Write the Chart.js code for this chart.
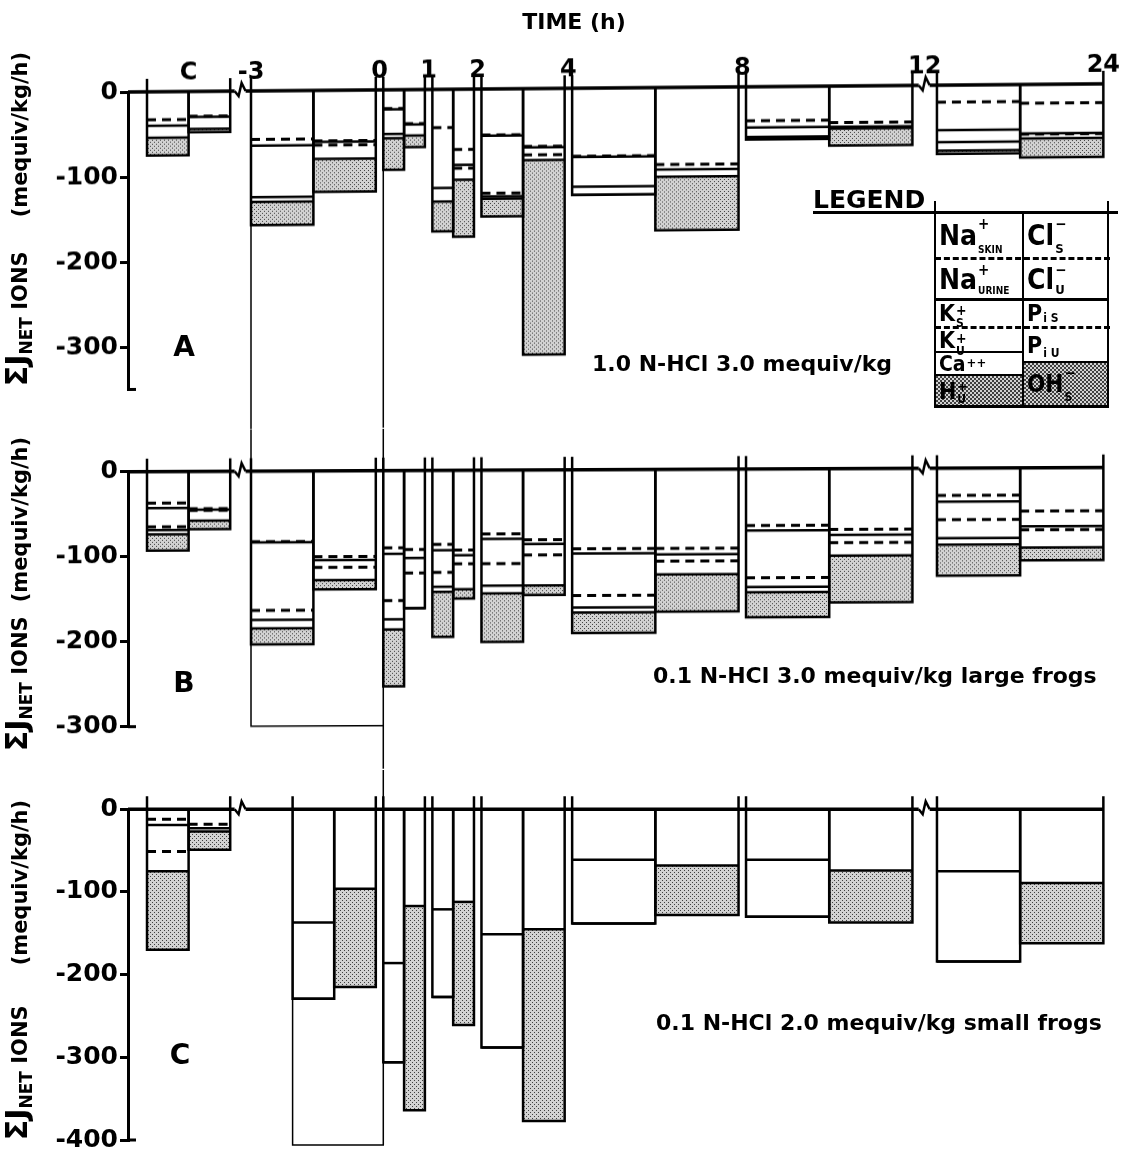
<!DOCTYPE html>
<html>
<head>
<meta charset="utf-8">
<script src="https://cdn.jsdelivr.net/npm/chart.js@4.4.0/dist/chart.umd.min.js"></script>
<style>
  html, body { margin: 0; background: #fff; }
  #fig { position: relative; width: 1134px; height: 1157px; overflow: hidden;
         font-family: "DejaVu Sans", sans-serif; font-weight: bold; color: #000; }
  canvas { position: absolute; left: 0; }
  .t { position: absolute; white-space: nowrap; line-height: 1; }
  .mid { transform: translate(-50%, -50%); }
  .vmid { transform: translateY(-50%); }
  .ytitle { position: absolute; white-space: nowrap; line-height: 1; font-size: 21px;
            transform: translate(-50%, -50%) rotate(-90deg); }
  .ytitle .big { font-size: 30px; }
  .ytitle sub { font-size: 17px; vertical-align: -5px; }
  .rule { position: absolute; background: #000; }
  .dash { position: absolute; border-top: 3px dashed #000; height: 0; }
  .stip { position: absolute; background-color: #d2d2d2;
          background-image: radial-gradient(circle, #404040 0.8px, transparent 1px),
                            radial-gradient(circle, #404040 0.8px, transparent 1px);
          background-size: 4px 4px; background-position: 0 0, 2px 2px; }
  .cell { position: absolute; display: flex; align-items: center; padding-left: 3px;
          font-family: "Liberation Sans Narrow", "DejaVu Sans Condensed", sans-serif; font-weight: bold; }
  .cell .ss { display: inline-flex; flex-direction: column; justify-content: space-between;
              line-height: 1; margin-left: 1px; align-self: stretch; padding: 3px 0 2px; }
</style>
</head>
<body>
<div id="fig">
  <canvas id="panelA" width="1134" height="430" style="top:0;transform-origin:128px 92px;transform:skewY(-0.48deg)"></canvas>
  <canvas id="panelB" width="1134" height="340" style="top:430px;transform-origin:128px 41.7px;transform:skewY(-0.25deg)"></canvas>
  <canvas id="panelC" width="1134" height="387" style="top:770px"></canvas>

  <div class="t mid" style="left:574px;top:22px;font-size:22px">TIME (h)</div>

  <div class="ytitle" style="left:18px;top:219px"><span class="big">ΣJ</span><sub>NET</sub> IONS<span style="display:inline-block;width:34px"></span>(mequiv/kg/h)</div>
  <div class="ytitle" style="left:18px;top:594px"><span class="big">ΣJ</span><sub>NET</sub> IONS<span style="display:inline-block;width:14px"></span>(mequiv/kg/h)</div>
  <div class="ytitle" style="left:18px;top:970px"><span class="big">ΣJ</span><sub>NET</sub> IONS<span style="display:inline-block;width:40px"></span>(mequiv/kg/h)</div>

  <div class="t mid" style="left:184px;top:347px;font-size:28px">A</div>
  <div class="t mid" style="left:184px;top:683px;font-size:28px">B</div>
  <div class="t mid" style="left:180px;top:1055px;font-size:28px">C</div>

  <div class="t vmid" style="left:592px;top:364px;font-size:22px">1.0 N-HCl 3.0 mequiv/kg</div>
  <div class="t vmid" style="left:653px;top:676px;font-size:22px">0.1 N-HCl 3.0 mequiv/kg large frogs</div>
  <div class="t vmid" style="left:656px;top:1023px;font-size:22px">0.1 N-HCl 2.0 mequiv/kg small frogs</div>

  <!-- legend -->
  <div class="t" style="left:813px;top:187px;font-size:25px">LEGEND</div>
  <div class="stip" style="left:935px;top:375px;width:88px;height:32px"></div>
  <div class="stip" style="left:1023px;top:362px;width:85px;height:45px"></div>
  <div class="rule" style="left:813px;top:211px;width:305px;height:3px"></div>
  <div class="rule" style="left:934px;top:201px;width:2px;height:207px"></div>
  <div class="rule" style="left:1022px;top:213px;width:2px;height:195px"></div>
  <div class="rule" style="left:1107px;top:201px;width:2px;height:207px"></div>
  <div class="dash" style="left:935px;top:257px;width:175px"></div>
  <div class="rule" style="left:935px;top:298px;width:173px;height:3px"></div>
  <div class="dash" style="left:935px;top:326px;width:175px"></div>
  <div class="rule" style="left:935px;top:351px;width:88px;height:2px"></div>
  <div class="rule" style="left:935px;top:374px;width:88px;height:2px"></div>
  <div class="rule" style="left:1023px;top:361px;width:85px;height:2px"></div>
  <div class="rule" style="left:934px;top:405px;width:175px;height:3px"></div>

  <div class="cell" style="left:936px;top:214px;height:43px;font-size:28px">Na<span class="ss"><span style="font-size:15px">+</span><span style="font-size:10px">SKIN</span></span></div>
  <div class="cell" style="left:936px;top:260px;height:38px;font-size:28px">Na<span class="ss"><span style="font-size:15px">+</span><span style="font-size:10px">URINE</span></span></div>
  <div class="cell" style="left:936px;top:300px;height:26px;font-size:23px">K<span class="ss"><span style="font-size:14px">+</span><span style="font-size:12px">S</span></span></div>
  <div class="cell" style="left:936px;top:328px;height:23px;font-size:23px">K<span class="ss"><span style="font-size:14px">+</span><span style="font-size:12px">U</span></span></div>
  <div class="cell" style="left:936px;top:353px;height:21px;font-size:21px">Ca<span class="ss"><span style="font-size:13px">++</span><span></span></span></div>
  <div class="cell" style="left:936px;top:376px;height:30px;font-size:23px">H<span class="ss"><span style="font-size:14px">+</span><span style="font-size:12px">U</span></span></div>
  <div class="cell" style="left:1024px;top:214px;height:43px;font-size:28px">Cl<span class="ss"><span style="font-size:15px">−</span><span style="font-size:13px">S</span></span></div>
  <div class="cell" style="left:1024px;top:260px;height:38px;font-size:28px">Cl<span class="ss"><span style="font-size:15px">−</span><span style="font-size:13px">U</span></span></div>
  <div class="cell" style="left:1024px;top:300px;height:26px;font-size:23px">P<span class="ss"><span></span><span style="font-size:12px">i S</span></span></div>
  <div class="cell" style="left:1024px;top:328px;height:33px;font-size:23px">P<span class="ss"><span></span><span style="font-size:12px">i U</span></span></div>
  <div class="cell" style="left:1024px;top:363px;height:42px;font-size:24px">OH<span class="ss"><span style="font-size:15px">−</span><span style="font-size:12px">S</span></span></div>
</div>

<script>
// collection periods; C = control collection (drawn as a 2 h block left of the axis break)
const periods     = ['C', '-3 to 0', '0 to 1', '1 to 2', '2 to 4', '4 to 8', '8 to 12', '12 to 24'];
const periodFrom  = [-5.5, -3, 0, 1, 2, 4, 8, 12];
const periodFromC = [-5.5, -2, 0, 1, 2, 4, 8, 12];   // small frogs: pre-load period from -2 h
const periodTo    = [-3.5, 0, 1, 2, 4, 8, 12, 24];
const timeTicks   = ['C', '-3', '0', '1', '2', '4', '8', '12', '24'];
const yTicksA = [-300, -200, -100, 0];
const yTicksB = [-300, -200, -100, 0];
const yTicksC = [-400, -300, -200, -100, 0];

// net ion fluxes, mequiv/kg/h, one value per period
// A: 1.0 N-HCl 3.0 mequiv/kg
const naSkinA  = [-33, -57, -22, -45, -54, -80, -40, -20];
const naUrineA = [-7, -7.5, -1, -71, -1, -1, -8, -33];
const kSkinA   = [0, 0, 0, 0, -67.5, 0, 0, 0];
const kUrineA  = [-14, -60.5, -29, -16, -4, -35, -11, -14];
const caA      = [0, -5.5, -5, 0, -2.5, -9.5, -1, -10];
const hUrineA  = [-21, -27.5, -37, -35, -21, 0, -2, -4];
const clSkinA  = [-29, -59.5, -40, -71, -68, -90.5, -43, -22];
const clUrineA = [-1, -1, -1, -18, -1, -6, -5, -35.5];
const pSkinA   = [0, -4, 0, -4, -9, 0, 0, -1];
const pUrineA  = [-14, -16, -13, -13.5, -6, -8.5, -2, -5];
const ohSkinA  = [-4, -39, -13.5, -67, -229, -63, -20, -22.5];

// B: 0.1 N-HCl 3.0 mequiv/kg, large frogs
const naSkinB  = [-37, -83, -91, -87, -75, -93, -66.5, -32];
const naUrineB = [-6, -1, -7, -7, -6, -5.5, -6, -7.5];
const kSkinB   = [-22, -80, -55, -26, -29, -49.5, -55.5, -21];
const kUrineB  = [-4, -11, -22, -17, -26, -14, -11, -22];
const caB      = [-5, -10, -12, -6, -9, -6, -6, -7.5];
const hUrineB  = [-19, -19, -67, -53, -57, -24, -29.5, -36.5];
const clSkinB  = [-44, -101, -93, -94, -82, -93, -71.5, -51];
const clUrineB = [-1, -4, -10, -6, -5, -7, -6.5, -18];
const pSkinB   = [-1, -8.5, -17.5, -10, -13, -8, -9, -4];
const pUrineB  = [-12, -15, -41.5, -30, -36, -15.5, -15.5, -21];
const ohSkinB  = [-10, -11, 0, -11, -11, -44, -55, -15];
const outlineB = -300;   // open box over the -3..0 h period

// C: 0.1 N-HCl 2.0 mequiv/kg, small frogs (after loading only two fractions resolved)
const naSkinC  = [-12, 0, 0, 0, 0, 0, 0, 0];
const naUrineC = [-7, -137, -186, -121, -151, -61, -61, -75];
const kSkinC   = [-32, 0, 0, 0, 0, 0, 0, 0];
const kUrineC  = [-24, -92, -120, -106, -137, -77, -69, -109];
const caC      = [0, 0, 0, 0, 0, 0, 0, 0];
const hUrineC  = [-95, 0, 0, 0, 0, 0, 0, 0];
const clSkinC  = [-18, 0, 0, 0, 0, 0, 0, 0];
const clUrineC = [-5, -96, -117, -112, -145, -68, -74, -89];
const pSkinC   = [0, 0, 0, 0, 0, 0, 0, 0];
const pUrineC  = [-4, 0, 0, 0, 0, 0, 0, 0];
const ohSkinC  = [-22, -119, -247, -149, -232, -60, -63, -73];
const outlineC = -406;   // open box over the -2..0 h period

// time axis: linear in h up to 12, gaps between collections, broken and compressed 12-24 h
const OFFSET = [0, 0, 0.18, 0.36, 0.54, 0.72, 0.90, 1.49];
const X_MIN = -5.957, X_MAX = 17.89;
const PX_X = 1 / 41.6;                       // h per pixel
function axisX(k, t) {
  const x = t > 12 ? 12 + (t - 12) / 3 : t;
  return x + OFFSET[k];
}
const timeTickAt = [axisX(0, -4.5), axisX(1, -3)];
for (let k = 1; k < 7; k++) timeTickAt.push((axisX(k, periodTo[k]) + axisX(k + 1, periodTo[k])) / 2);
timeTickAt.push(axisX(7, 24));

const STIPPLE = (() => {
  const c = document.createElement('canvas');
  c.width = c.height = 4;
  const g = c.getContext('2d');
  g.fillStyle = '#d2d2d2'; g.fillRect(0, 0, 4, 4);
  g.fillStyle = '#404040'; g.fillRect(0, 0, 1, 1); g.fillRect(2, 2, 1, 1);
  return g.createPattern(c, 'repeat');
})();

const cations = (na, nu, ks, ku, ca, h) =>
  [[na, 'dash'], [nu, 'solid'], [ks, 'dash'], [ku, 'solid'], [ca, 'solid'], [h, 'stipple']];
const anions = (cs, cu, ps, pu, oh) =>
  [[cs, 'dash'], [cu, 'solid'], [ps, 'dash'], [pu, 'solid'], [oh, 'stipple']];

const seg = (pts, w, dash) => ({
  data: pts.map(([x, y]) => ({ x, y })), borderColor: '#000', borderWidth: w,
  borderDash: dash || [], order: 1
});

function addBar(ds, series, k, xa, xb, riseL, riseR) {
  let level = 0;
  series.forEach(([vals, style]) => {
    const v = vals[k];
    if (!v) return;
    const top = level;
    level += v;
    if (style === 'stipple') {
      ds.push({ data: [{ x: xa, y: level }, { x: xb, y: level }], fill: { value: top },
                backgroundColor: STIPPLE, borderWidth: 0, order: 3 });
    } else if (style === 'dash') {
      ds.push({ ...seg([[xa, level], [xb, level]], 3, [9, 6]), order: 2 });
    } else {
      ds.push({ ...seg([[xa, level], [xb, level]], 2.5), order: 2 });
    }
  });
  ds.push(seg([[xa, riseL], [xa, level], [xb, level], [xb, riseR]], 2.5));
}

function addAxisLine(ds, uy, yMin) {
  const c1 = (axisX(0, -3.5) + axisX(1, -3)) / 2;
  const c2 = (axisX(6, 12) + axisX(7, 12)) / 2;
  const bolt = c => [[c - 6 * PX_X, 0], [c - 2 * PX_X, -5 * uy], [c + 1 * PX_X, 8 * uy], [c + 5 * PX_X, 0]];
  ds.push(seg([[X_MIN, 0], [c1 - 6 * PX_X, 0]], 3.5));
  ds.push(seg(bolt(c1), 2.5));
  ds.push(seg([[c1 + 5 * PX_X, 0], [c2 - 6 * PX_X, 0]], 3.5));
  ds.push(seg(bolt(c2), 2.5));
  ds.push(seg([[c2 + 5 * PX_X, 0], [axisX(7, 24), 0]], 3.5));
  ds.push(seg([[X_MIN, yMin], [X_MIN + 8 * PX_X, yMin]], 3));
}

const TICK_FONT = { family: 'DejaVu Sans', size: 25, weight: 'bold' };

const panels = [
  { id: 'panelA', from: periodFrom, yMin: -350, yTicks: yTicksA, pxPerUnit: 0.85,
    padTop: 0, padBottom: 40.5, time: true,
    cat: cations(naSkinA, naUrineA, kSkinA, kUrineA, caA, hUrineA),
    an: anions(clSkinA, clUrineA, pSkinA, pUrineA, ohSkinA),
    links: ds => {
      ds.push(seg([[axisX(1, -3), 0], [axisX(1, -3), -520]], 1.5));
      ds.push(seg([[axisX(2, 0), 0], [axisX(2, 0), -520]], 1.5));
    } },
  { id: 'panelB', from: periodFrom, yMin: -300, yTicks: yTicksB, pxPerUnit: 0.85,
    padTop: 41.7, padBottom: 43.3, time: false,
    cat: cations(naSkinB, naUrineB, kSkinB, kUrineB, caB, hUrineB),
    an: anions(clSkinB, clUrineB, pSkinB, pUrineB, ohSkinB),
    links: ds => {
      const xl = axisX(1, -3), xr = axisX(2, 0);
      ds.push(seg([[xl, 120], [xl, outlineB], [xr, outlineB]], 1.5));
      ds.push(seg([[xr, 120], [xr, -520]], 1.5));
    } },
  { id: 'panelC', from: periodFromC, yMin: -400, yTicks: yTicksC, pxPerUnit: 0.831,
    padTop: 39.3, padBottom: 15.3, time: false,
    cat: cations(naSkinC, naUrineC, kSkinC, kUrineC, caC, hUrineC),
    an: anions(clSkinC, clUrineC, pSkinC, pUrineC, ohSkinC),
    links: ds => {
      const xl = axisX(1, -2), xr = axisX(2, 0);
      ds.push(seg([[xl, 0], [xl, outlineC], [xr, outlineC], [xr, 120]], 1.5));
    } }
];

panels.forEach(p => {
  const uy = 1 / p.pxPerUnit;
  const rise = 13 * uy;
  const ds = [];
  periods.forEach((name, k) => {
    const t0 = p.from[k], t1 = periodTo[k];
    const xa = axisX(k, t0), xm = axisX(k, (t0 + t1) / 2), xb = axisX(k, t1);
    addBar(ds, p.cat, k, xa, xm, rise, 0);
    addBar(ds, p.an, k, xm, xb, 0, rise);
  });
  addAxisLine(ds, uy, p.yMin);
  p.links(ds);

  new Chart(document.getElementById(p.id), {
    type: 'line',
    data: { datasets: ds },
    options: {
      responsive: false,
      animation: false,
      devicePixelRatio: 1,
      events: [],
      layout: { padding: { top: p.padTop, right: 14, bottom: p.padBottom, left: 0 } },
      plugins: { legend: { display: false }, tooltip: { enabled: false } },
      elements: { point: { radius: 0, hoverRadius: 0 }, line: { tension: 0, borderCapStyle: 'butt' } },
      datasets: { line: { clip: false, pointRadius: 0, fill: false } },
      scales: {
        x: {
          type: 'linear', min: X_MIN, max: X_MAX, position: 'top', display: p.time,
          afterFit: s => { s.height = p.time ? 92 : 0; },
          afterBuildTicks: s => { s.ticks = timeTickAt.map(v => ({ value: v })); },
          ticks: { callback: (v, i) => timeTicks[i], font: { family: 'DejaVu Sans', size: 24, weight: 'bold' },
                   color: '#000', padding: 4, maxRotation: 0, autoSkip: false },
          grid: { display: false, drawTicks: false },
          border: { display: false }
        },
        y: {
          type: 'linear', min: p.yMin, max: 0, position: 'left',
          afterFit: s => { s.width = 128; },
          afterBuildTicks: s => { s.ticks = p.yTicks.map(v => ({ value: v })); },
          ticks: { font: TICK_FONT, color: '#000', padding: 2 },
          grid: { drawOnChartArea: false, color: '#000', lineWidth: 3, tickLength: 8 },
          border: { color: '#000', width: 3 }
        }
      }
    }
  });
});
</script>
</body>
</html>
